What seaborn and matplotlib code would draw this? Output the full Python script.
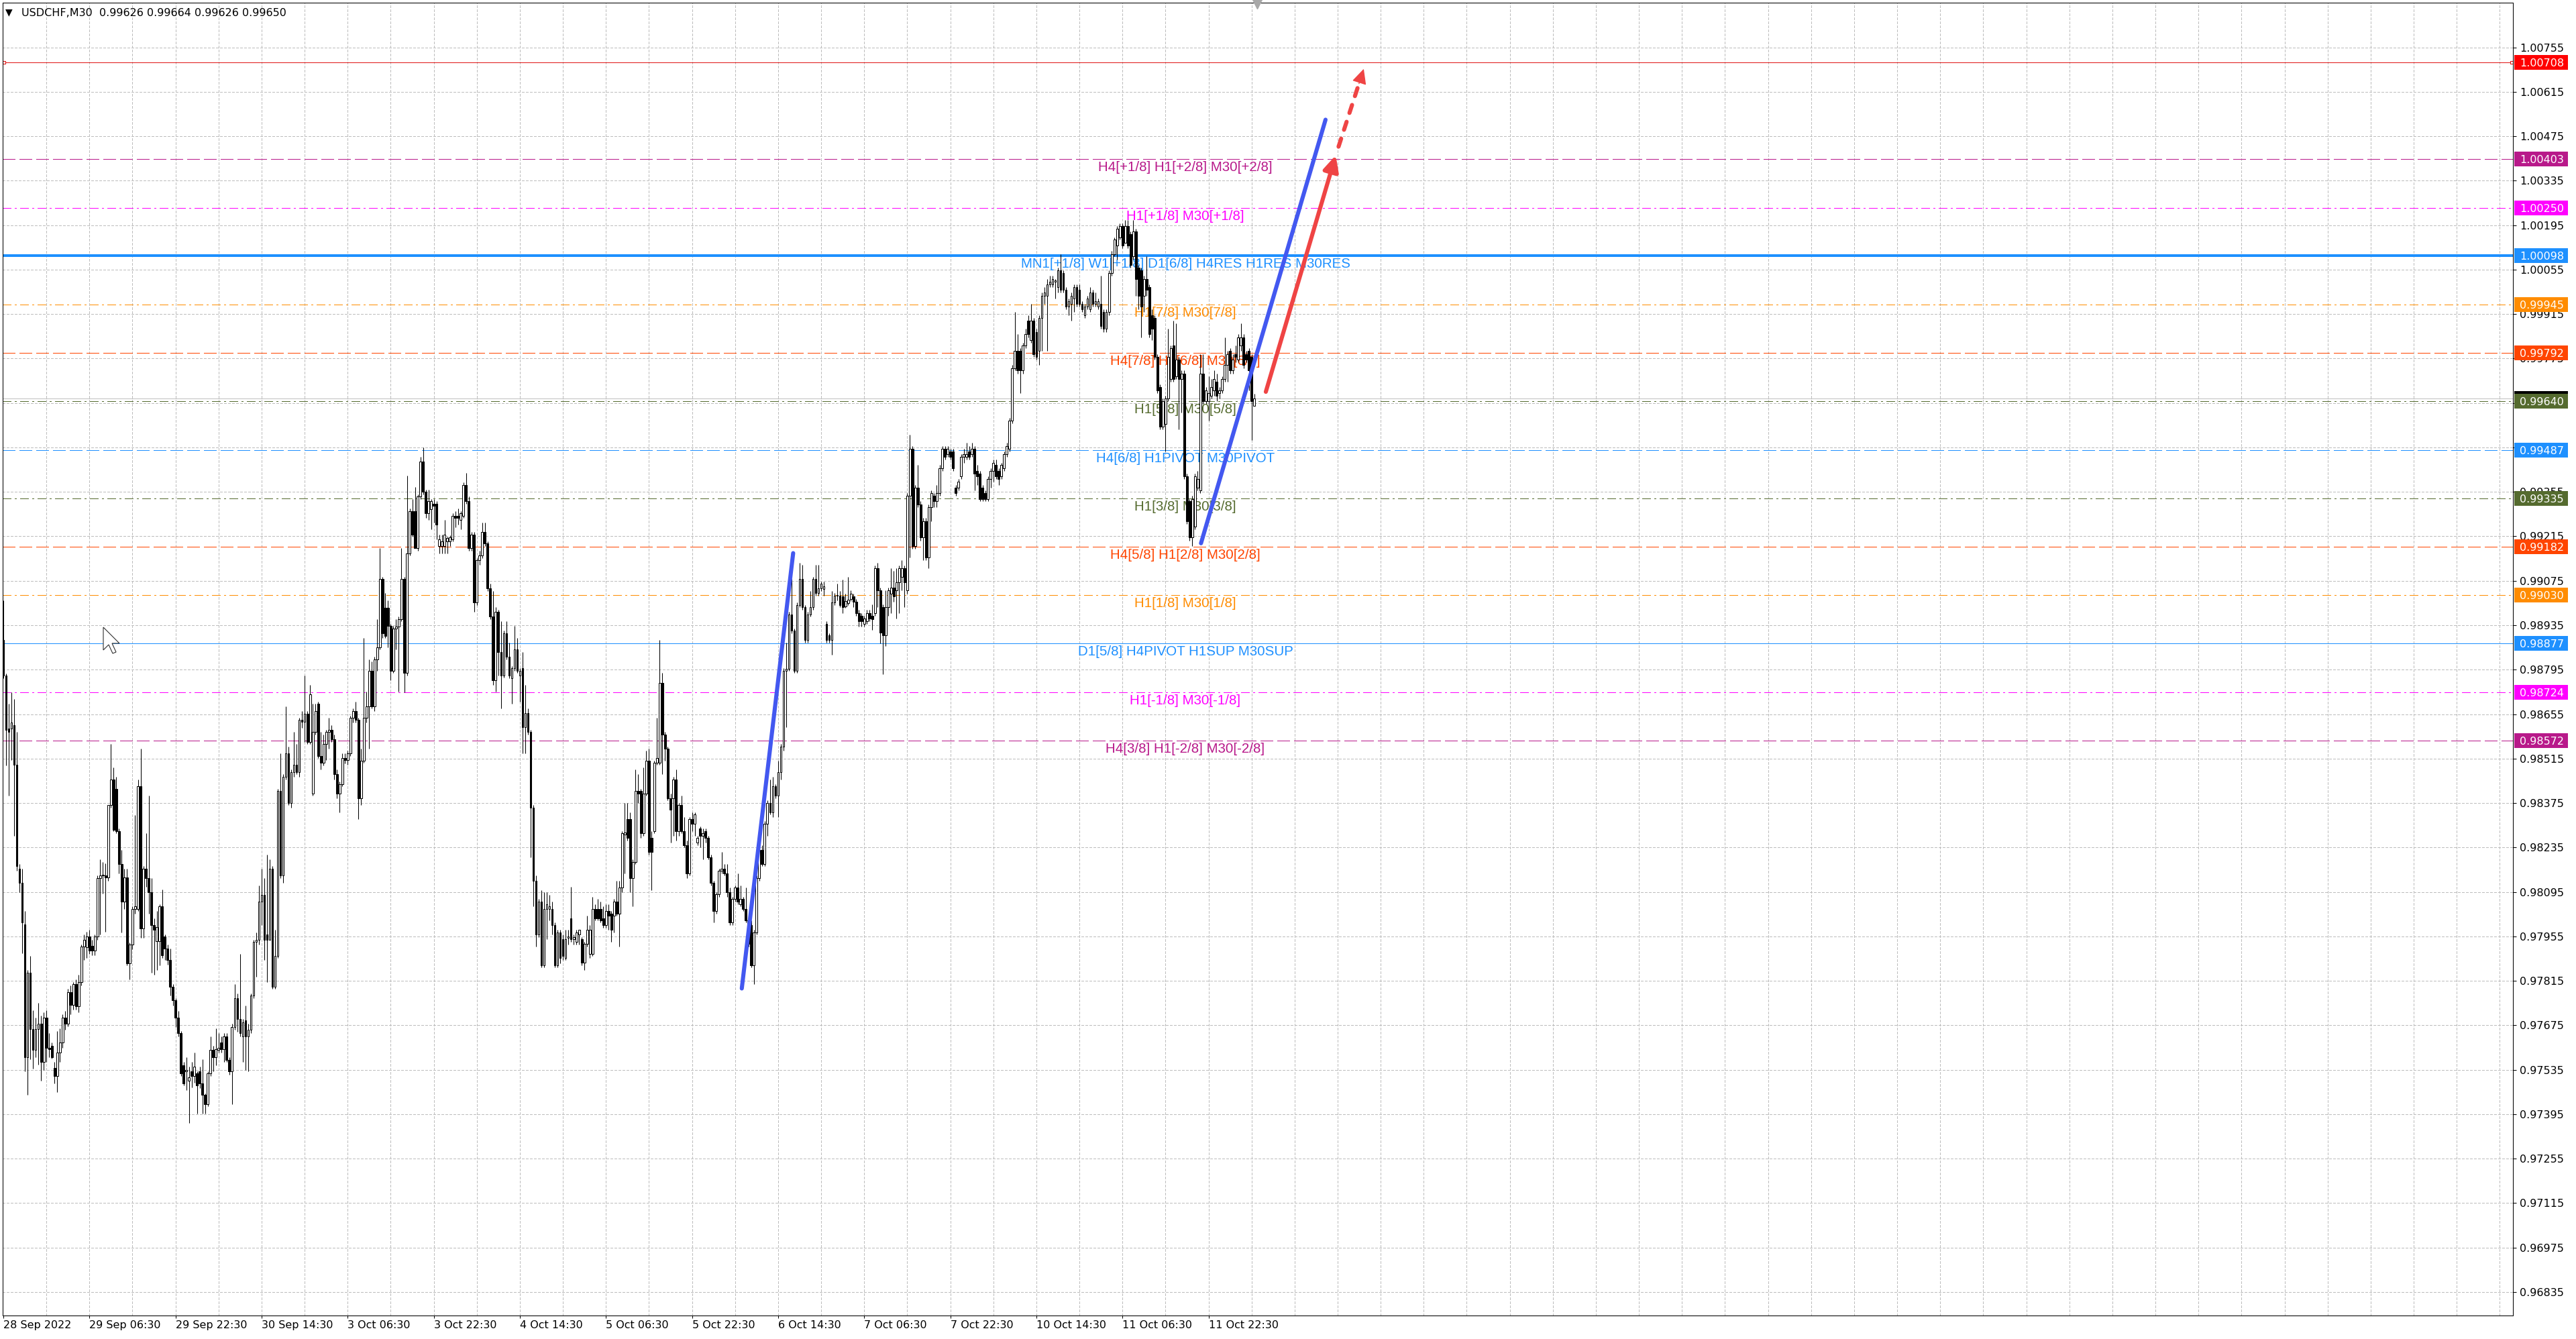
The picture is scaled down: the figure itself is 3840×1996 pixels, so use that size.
import numpy as np
import pandas as pd
import matplotlib
matplotlib.use("Agg")
import matplotlib.pyplot as plt
import seaborn as sns
from matplotlib.patches import Rectangle, Polygon
from matplotlib.transforms import blended_transform_factory

# USDCHF M30 candles, prices in points (1 point = 0.00001), bar 0 = 28 Sep 14:30
open_pts = [
    98888, 98776, 98610, 98610, 98620, 98495, 98168, 98124, 97993, 97575,
    97841, 97664, 97597, 97664, 97680, 97560, 97700, 97605, 97610, 97540,
    97515, 97590, 97620, 97700, 97680, 97780, 97740, 97805, 97735, 97810,
    97924, 97920, 97955, 97925, 97910, 97955, 98139, 98146, 98146, 98140,
    98368, 98450, 98420, 98287, 98183, 98064, 98140, 97871, 97930, 98042,
    98042, 98428, 97980, 98168, 98138, 98094, 97990, 97940, 97940, 98050,
    97955, 97916, 97880, 97797, 97753, 97700, 97650, 97550, 97530, 97500,
    97530, 97515, 97523, 97530, 97493, 97456, 97426, 97523, 97597, 97575,
    97597, 97620, 97600, 97640, 97565, 97530, 97670, 97760, 97695, 97640,
    97690, 97640, 97660, 97768, 97938, 97945, 98064, 98086, 97960, 97945,
    98168, 97797, 97894, 98413, 98146, 98457, 98531, 98376, 98472, 98495,
    98472, 98636, 98630, 98657, 98568, 98405, 98598, 98687, 98524, 98502,
    98561, 98598, 98605, 98575, 98465, 98405, 98435, 98517, 98510, 98531,
    98643, 98665, 98636, 98390, 98509, 98643, 98680, 98791, 98680, 98828,
    98865, 99080, 98990, 98990, 98932, 98791, 98925, 98930, 98954, 99080,
    98784, 99162, 99295, 99295, 99177, 99340, 99451, 99355, 99288, 99300,
    99318, 99318, 99184, 99185, 99185, 99200, 99200, 99206, 99280, 99280,
    99266, 99280, 99377, 99325, 99177, 99221, 99006, 99140, 99155, 99229,
    99192, 99051, 98962, 98762, 98977, 98850, 98776, 98910, 98836, 98769,
    98799, 98858, 98776, 98799, 98613, 98658, 98598, 98361, 98131, 97961,
    98064, 97864, 98042, 98042, 98042, 97990, 97864, 97968, 97946, 97886,
    97950, 98012, 97946, 97938, 97960, 97946, 97872, 97931, 97900, 97900,
    98042, 98042, 98042, 98012, 97990, 98035, 98027, 98020, 98064, 98027,
    98109, 98275, 98324, 98324, 98138, 98190, 98413, 98413, 98280, 98405,
    98509, 98265, 98287, 98502, 98502, 98754, 98591, 98546, 98390, 98390,
    98450, 98287, 98368, 98287, 98243, 98153, 98324, 98310, 98250, 98294,
    98272, 98287, 98265, 98205, 98124, 98035, 98087, 98161, 98168, 98153,
    98094, 97998, 98072, 98109, 98057, 98072, 98042, 98005, 97990, 97864,
    97968, 98138, 98228, 98183, 98310, 98376, 98346, 98428, 98398, 98472,
    98553, 98791, 98798, 98969, 98917, 98791, 98999, 99080, 98992, 98888,
    98969, 98992, 99080, 99036, 99051, 99050, 98940, 98903, 98888, 99006,
    99028, 99028, 99026, 98995, 99005, 99018, 99026, 99009, 98974, 98965,
    98939, 98948, 98974, 98965, 98974, 99114, 99044, 98991, 98904, 98991,
    99035, 99053, 99044, 99070, 99088, 99114, 99044, 99342, 99491, 99184,
    99368, 99316, 99211, 99263, 99149, 99307, 99342, 99325, 99351, 99430,
    99491, 99474, 99482, 99482, 99368, 99368, 99403, 99465, 99465, 99482,
    99474, 99491, 99421, 99412, 99368, 99351, 99333, 99395, 99421, 99439,
    99421, 99403, 99430, 99474, 99491, 99579, 99745, 99798, 99798, 99737,
    99816, 99894, 99833, 99894, 99859, 99798, 99903, 99973, 99973, 100008,
    100008, 100017, 100000, 100052, 100044, 99991, 99938, 99947, 99964, 99999,
    99991, 99947, 99912, 99938, 99929, 99982, 99947, 99938, 99947, 99921,
    99868, 99921, 100044, 100104, 100130, 100157, 100192, 100140, 100192, 100166,
    100096, 100175, 100061, 100052, 99973, 100026, 99999, 99912, 99903, 99780,
    99684, 99561, 99569, 99649, 99710, 99816, 99719, 99772, 99710, 99728,
    99403, 99325, 99211, 99245, 99368, 99360, 99728, 99640, 99640, 99658,
    99675, 99701, 99666, 99675, 99710, 99754, 99798, 99737, 99789, 99772,
    99816, 99842, 99789, 99798, 99780, 99626,
]
high_pts = [
    99014, 98783, 98687, 98724, 98702, 98598, 98183, 98168, 98035, 97850,
    97893, 97723, 97700, 97745, 97705, 97715, 97722, 97650, 97620, 97560,
    97657, 97665, 97710, 97720, 97790, 97800, 97810, 97820, 97835, 97930,
    97960, 97970, 97975, 97945, 97960, 98146, 98198, 98190, 98185, 98368,
    98560, 98487, 98457, 98294, 98228, 98168, 98168, 97935, 98050, 98338,
    98450, 98546, 98176, 98280, 98398, 98138, 98012, 98035, 98057, 98102,
    97960, 97930, 97916, 97805, 97760, 97720, 97657, 97560, 97575, 97545,
    97560, 97590, 97530, 97545, 97567, 97460, 97530, 97640, 97610, 97665,
    97650, 97640, 97650, 97650, 97575, 97680, 97805, 97775, 97900, 97695,
    97736, 97680, 97775, 97945, 97968, 98116, 98168, 98138, 98213, 98198,
    98176, 97975, 98420, 98532, 98465, 98680, 98553, 98480, 98598, 98561,
    98643, 98665, 98776, 98665, 98747, 98687, 98687, 98695, 98598, 98590,
    98605, 98643, 98620, 98590, 98480, 98442, 98531, 98531, 98539, 98650,
    98672, 98695, 98643, 98546, 98895, 98725, 98828, 98820, 98836, 98954,
    99177, 99088, 99036, 99014, 98940, 98932, 98954, 98962, 99177, 99088,
    99406, 99303, 99332, 99370, 99347, 99466, 99495, 99362, 99362, 99332,
    99332, 99325, 99221, 99221, 99266, 99214, 99218, 99288, 99295, 99303,
    99295, 99384, 99414, 99340, 99229, 99229, 99147, 99170, 99258, 99258,
    99199, 99065, 99043, 98992, 98984, 98947, 98917, 98947, 98880, 98806,
    98932, 98895, 98799, 98850, 98747, 98672, 98606, 98368, 98146, 98072,
    98101, 98094, 98094, 98086, 98064, 97998, 97975, 97975, 97960, 97975,
    97975, 98112, 97960, 97975, 97975, 97953, 97938, 98020, 97990, 98079,
    98057, 98072, 98064, 98050, 98057, 98057, 98035, 98072, 98131, 98131,
    98287, 98376, 98376, 98346, 98198, 98480, 98465, 98420, 98487, 98539,
    98546, 98287, 98509, 98643, 98888, 98784, 98598, 98553, 98405, 98457,
    98480, 98376, 98398, 98331, 98257, 98331, 98346, 98346, 98272, 98302,
    98294, 98294, 98272, 98212, 98131, 98094, 98168, 98220, 98183, 98183,
    98109, 98079, 98116, 98153, 98116, 98079, 98109, 98020, 98005, 97975,
    98146, 98235, 98243, 98317, 98383, 98450, 98457, 98435, 98509, 98561,
    98799, 98880, 98977, 99080, 98925, 99006, 99132, 99125, 98999, 98977,
    99043, 99088, 99125, 99125, 99073, 99073, 98947, 98910, 99043, 99036,
    99065, 99043, 99079, 99035, 99088, 99044, 99035, 99018, 98983, 98974,
    98965, 98983, 98983, 99000, 99123, 99132, 99053, 99000, 99044, 99053,
    99114, 99106, 99114, 99123, 99140, 99123, 99351, 99535, 99500, 99377,
    99439, 99325, 99272, 99272, 99316, 99360, 99351, 99377, 99439, 99500,
    99500, 99500, 99491, 99491, 99377, 99395, 99474, 99491, 99509, 99500,
    99509, 99500, 99439, 99421, 99377, 99360, 99403, 99430, 99456, 99456,
    99430, 99447, 99482, 99509, 99588, 99754, 99921, 99851, 99807, 99824,
    99868, 99912, 99947, 99903, 99868, 99912, 99982, 99999, 100026, 100035,
    100035, 100026, 100061, 100104, 100052, 99999, 99964, 99982, 100008, 100008,
    100008, 99956, 99947, 99973, 99999, 99991, 99982, 99964, 100035, 99929,
    99929, 100052, 100113, 100157, 100192, 100201, 100201, 100210, 100210, 100175,
    100210, 100184, 100070, 100061, 100035, 100096, 100008, 99929, 99912, 99789,
    99693, 99649, 99658, 99868, 99816, 99894, 99886, 99780, 99737, 99737,
    99412, 99333, 99342, 99412, 99421, 99789, 99789, 99684, 99719, 99710,
    99737, 99728, 99684, 99719, 99842, 99798, 99807, 99789, 99816, 99851,
    99886, 99851, 99798, 99807, 99789, 99664,
]
low_pts = [
    98769, 98494, 98398, 98510, 98272, 98161, 98094, 97901, 97530, 97456,
    97568, 97538, 97575, 97552, 97500, 97535, 97560, 97575, 97570, 97493,
    97464, 97560, 97605, 97660, 97672, 97710, 97725, 97725, 97715, 97800,
    97880, 97888, 97900, 97895, 97895, 97945, 97960, 98090, 97970, 98130,
    98360, 98287, 98280, 98153, 97968, 98042, 97864, 97820, 97915, 98027,
    98035, 97950, 97950, 98110, 98027, 97840, 97835, 97850, 97864, 97886,
    97880, 97865, 97768, 97738, 97670, 97640, 97515, 97485, 97470, 97367,
    97480, 97494, 97397, 97478, 97397, 97397, 97420, 97515, 97530, 97550,
    97590, 97590, 97560, 97560, 97520, 97426, 97660, 97655, 97640, 97560,
    97535, 97530, 97650, 97760, 97827, 97930, 97990, 97880, 97812, 97945,
    97790, 97790, 97886, 98138, 98124, 98450, 98368, 98360, 98457, 98465,
    98457, 98612, 98568, 98560, 98560, 98398, 98590, 98516, 98480, 98494,
    98510, 98546, 98568, 98450, 98390, 98346, 98427, 98500, 98495, 98524,
    98628, 98628, 98324, 98368, 98502, 98628, 98546, 98673, 98665, 98791,
    98858, 98895, 98895, 98865, 98761, 98784, 98858, 98725, 98947, 98724,
    98776, 99155, 99214, 99177, 99170, 99333, 99347, 99273, 99266, 99236,
    99258, 99206, 99162, 99162, 99162, 99162, 99184, 99199, 99243, 99251,
    99236, 99273, 99318, 99170, 99170, 98977, 98999, 99125, 99147, 99184,
    99043, 98954, 98747, 98725, 98776, 98673, 98770, 98828, 98769, 98687,
    98791, 98784, 98695, 98532, 98532, 98591, 98205, 98049, 97924, 97953,
    97857, 97857, 97946, 98005, 97960, 97857, 97857, 97871, 97880, 97880,
    97930, 97938, 97930, 97930, 97930, 97864, 97849, 97924, 97886, 97894,
    98005, 98005, 97998, 97983, 97983, 97975, 97938, 97968, 98020, 97924,
    98094, 98153, 98257, 98094, 98049, 98183, 98376, 98265, 98272, 98398,
    98212, 98101, 98280, 98495, 98495, 98465, 98509, 98383, 98250, 98272,
    98257, 98272, 98280, 98235, 98138, 98146, 98287, 98272, 98243, 98235,
    98198, 98250, 98198, 98116, 97998, 98027, 98079, 98153, 98146, 98079,
    97990, 97990, 98064, 98057, 98050, 98035, 97998, 97924, 97857, 97805,
    97960, 98131, 98176, 98176, 98272, 98339, 98331, 98390, 98331, 98450,
    98539, 98613, 98791, 98910, 98784, 98784, 98992, 98984, 98880, 98880,
    98962, 98984, 99028, 99028, 99043, 99028, 98880, 98880, 98843, 98999,
    99014, 98992, 98974, 98990, 98999, 99010, 98991, 98965, 98930, 98930,
    98930, 98939, 98948, 98921, 98965, 98991, 98877, 98781, 98869, 98965,
    98974, 99009, 98956, 98974, 99044, 98991, 99035, 99149, 99175, 99175,
    99307, 99202, 99140, 99140, 99114, 99263, 99307, 99307, 99342, 99421,
    99456, 99465, 99456, 99421, 99342, 99360, 99395, 99447, 99456, 99456,
    99465, 99360, 99377, 99325, 99325, 99325, 99325, 99368, 99386, 99395,
    99377, 99395, 99421, 99465, 99482, 99570, 99737, 99728, 99666, 99728,
    99807, 99842, 99824, 99780, 99772, 99754, 99798, 99947, 99798, 100000,
    100000, 99964, 99982, 99982, 99982, 99929, 99912, 99894, 99921, 99938,
    99938, 99921, 99903, 99929, 99921, 99938, 99938, 99929, 99868, 99859,
    99859, 99912, 100035, 100096, 100087, 100149, 100122, 100140, 100122, 100061,
    100087, 99973, 99929, 99842, 99921, 99973, 99842, 99833, 99772, 99666,
    99552, 99552, 99482, 99640, 99701, 99701, 99710, 99552, 99605, 99395,
    99254, 99202, 99184, 99237, 99360, 99351, 99632, 99632, 99579, 99649,
    99658, 99640, 99649, 99666, 99701, 99701, 99728, 99728, 99763, 99763,
    99798, 99745, 99763, 99675, 99517, 99626,
]
close_pts = [
    98776, 98606, 98600, 98628, 98495, 98176, 98124, 97998, 97575, 97841,
    97664, 97597, 97664, 97680, 97560, 97700, 97605, 97600, 97575, 97515,
    97590, 97620, 97700, 97680, 97780, 97740, 97805, 97735, 97810, 97924,
    97945, 97955, 97910, 97910, 97955, 98139, 98146, 98150, 98140, 98368,
    98450, 98290, 98287, 98183, 98064, 98140, 97871, 97930, 98042, 98050,
    98428, 97980, 98168, 98138, 98094, 97990, 97975, 97985, 98050, 97895,
    97916, 97880, 97797, 97753, 97700, 97650, 97523, 97493, 97535, 97510,
    97515, 97545, 97486, 97493, 97456, 97426, 97523, 97597, 97575, 97600,
    97605, 97600, 97640, 97565, 97530, 97670, 97760, 97695, 97650, 97685,
    97640, 97660, 97768, 97938, 97945, 98064, 98086, 97945, 97945, 98168,
    97797, 97894, 98413, 98146, 98457, 98531, 98376, 98472, 98495, 98472,
    98636, 98630, 98657, 98568, 98717, 98598, 98665, 98524, 98502, 98561,
    98598, 98605, 98575, 98465, 98405, 98435, 98517, 98510, 98531, 98643,
    98665, 98636, 98390, 98509, 98643, 98680, 98791, 98680, 98828, 98865,
    99080, 98910, 98902, 98932, 98791, 98925, 98930, 98954, 99080, 98784,
    99162, 99295, 99221, 99177, 99340, 99451, 99355, 99288, 99325, 99325,
    99310, 99251, 99206, 99200, 99221, 99210, 99212, 99280, 99273, 99273,
    99288, 99377, 99325, 99177, 99221, 99006, 99140, 99155, 99229, 99192,
    99051, 98962, 98762, 98977, 98850, 98776, 98910, 98836, 98776, 98799,
    98858, 98791, 98791, 98613, 98658, 98598, 98361, 98131, 97961, 98064,
    97864, 98042, 98057, 98050, 97990, 97864, 97968, 97886, 97894, 97946,
    97955, 97946, 97953, 97968, 97975, 97872, 97931, 97975, 97975, 98042,
    98012, 98012, 98005, 97990, 98035, 98020, 97975, 98064, 98027, 98109,
    98280, 98283, 98265, 98138, 98190, 98413, 98405, 98280, 98405, 98509,
    98220, 98220, 98502, 98517, 98754, 98591, 98546, 98390, 98353, 98450,
    98287, 98368, 98287, 98243, 98153, 98324, 98310, 98340, 98265, 98272,
    98280, 98265, 98205, 98124, 98035, 98087, 98161, 98168, 98153, 98094,
    97998, 98072, 98109, 98064, 98072, 98042, 98005, 97931, 97864, 97968,
    98138, 98228, 98183, 98310, 98376, 98346, 98428, 98398, 98472, 98553,
    98791, 98798, 98969, 98917, 98791, 98999, 99080, 98992, 98888, 98969,
    98992, 99080, 99036, 99051, 99065, 99058, 98888, 98888, 99006, 99028,
    99030, 98999, 98991, 99010, 99015, 99035, 99009, 98974, 98948, 98948,
    98956, 98974, 98956, 98955, 99114, 99044, 98912, 98904, 98991, 99044,
    99053, 99026, 99070, 99114, 99114, 99070, 99342, 99491, 99184, 99368,
    99316, 99211, 99263, 99149, 99307, 99351, 99325, 99351, 99430, 99491,
    99465, 99491, 99465, 99430, 99351, 99386, 99465, 99474, 99474, 99465,
    99491, 99412, 99403, 99333, 99333, 99333, 99395, 99421, 99447, 99403,
    99395, 99439, 99474, 99500, 99579, 99745, 99798, 99737, 99737, 99816,
    99851, 99851, 99894, 99789, 99780, 99903, 99973, 99982, 100008, 100017,
    100026, 100020, 100052, 99991, 99991, 99938, 99956, 99973, 99999, 99947,
    99947, 99929, 99938, 99964, 99982, 99947, 99956, 99956, 99877, 99868,
    99921, 100044, 100104, 100149, 100184, 100192, 100130, 100192, 100130, 100070,
    100175, 100026, 99973, 99938, 100026, 99991, 99851, 99868, 99780, 99675,
    99561, 99640, 99649, 99780, 99807, 99710, 99772, 99710, 99728, 99403,
    99263, 99211, 99333, 99403, 99395, 99728, 99640, 99675, 99666, 99684,
    99710, 99658, 99675, 99710, 99754, 99789, 99737, 99772, 99780, 99842,
    99842, 99754, 99772, 99737, 99640, 99650,
]

time_labels = ["28 Sep 2022", "29 Sep 06:30", "29 Sep 22:30", "30 Sep 14:30",
               "3 Oct 06:30", "3 Oct 22:30", "4 Oct 14:30", "5 Oct 06:30",
               "5 Oct 22:30", "6 Oct 14:30", "7 Oct 06:30", "7 Oct 22:30",
               "10 Oct 14:30", "11 Oct 06:30", "11 Oct 22:30"]
time_label_bars = [0, 32, 64, 96, 128, 160, 192, 224, 256, 288, 320, 352, 384, 416, 448]

price_ticks = ["0.96835", "0.96975", "0.97115", "0.97255", "0.97395", "0.97535",
               "0.97675", "0.97815", "0.97955", "0.98095", "0.98235", "0.98375",
               "0.98515", "0.98655", "0.98795", "0.98935", "0.99075", "0.99215",
               "0.99355", "0.99495", "0.99635", "0.99775", "0.99915", "1.00055",
               "1.00195", "1.00335", "1.00475", "1.00615", "1.00755"]

# Murrey math levels
level_prices = [1.00708, 1.00403, 1.00250, 1.00098, 0.99945, 0.99792, 0.99640,
                0.99487, 0.99335, 0.99182, 0.99030, 0.98877, 0.98724, 0.98572]
level_colors = ["#E01515", "#B8198A", "#FF00FF", "#1E90FF", "#FF8C00", "#FF4500",
                "#556B2F", "#1E90FF", "#556B2F", "#FF4500", "#FF8C00", "#1E90FF",
                "#FF00FF", "#B8198A"]
level_styles = ["solid", "dash", "dashdot", "solid", "dashdot", "dash", "dashdot",
                "dash", "dashdot", "dash", "dashdot", "solid", "dashdot", "dash"]
level_texts = ["",
               "H4[+1/8] H1[+2/8] M30[+2/8]",
               "H1[+1/8] M30[+1/8]",
               "MN1[+1/8] W1[+1/8] D1[6/8] H4RES H1RES M30RES",
               "H1[7/8] M30[7/8]",
               "H4[7/8] H1[6/8] M30[6/8]",
               "H1[5/8] M30[5/8]",
               "H4[6/8] H1PIVOT M30PIVOT",
               "H1[3/8] M30[3/8]",
               "H4[5/8] H1[2/8] M30[2/8]",
               "H1[1/8] M30[1/8]",
               "D1[5/8] H4PIVOT H1SUP M30SUP",
               "H1[-1/8] M30[-1/8]",
               "H4[3/8] H1[-2/8] M30[-2/8]"]
bid_price = 0.99650
title_text = "USDCHF,M30  0.99626 0.99664 0.99626 0.99650"

# hand-drawn trend lines: (bar, price) pairs
blue_lines = [[(274.5, 0.97791), (293.6, 0.99162)],
              [(445.2, 0.99193), (491.5, 1.00527)]]
red_arrow = [(469.3, 0.99670), (495.3, 1.00415), (505.7, 1.00687)]

sns.set_theme(style="white")
plt.rcParams["font.family"] = ["DejaVu Sans"]
plt.rcParams["lines.scale_dashes"] = False

W, H = 3840, 1996
fig = plt.figure(figsize=(W / 100, H / 100), dpi=100)
fig.patch.set_facecolor("white")
left, right, top, bottom = 4, 3746, 4, 1961
ax = fig.add_axes([left / W, 1 - bottom / H, (right - left) / W, (bottom - top) / H])
ax.set_facecolor("white")

df = pd.DataFrame({"open": open_pts, "high": high_pts, "low": low_pts, "close": close_pts}) / 1e5
df["bar"] = np.arange(len(df))
ax.set_xlim(-0.25, 932.9)
ax.set_ylim(0.96761, 1.008955)

# grid
grid_kw = dict(color="#BDBDBD", lw=0.72, ls=(0, (2.4, 1.6)), zorder=0.5, antialiased=False)
for gx in range(16, 933, 16):
    ax.axvline(gx, **grid_kw)
for gy in price_ticks:
    ax.axhline(float(gy), **grid_kw)

# levels
dash_map = {"solid": "-", "dash": (0, (13, 4.5)), "dashdot": (0, (9, 4, 2, 4))}
for p, c, s, t in zip(level_prices, level_colors, level_styles, level_texts):
    lw = 1.45 if p == 1.00098 else 0.72
    ax.axhline(p, color=c, ls=dash_map[s], lw=lw, zorder=1, antialiased=False)
    if t:
        ax.annotate(t, xy=(439.4, p), xytext=(0, -9), textcoords="offset points",
                    ha="center", va="center", color=c, fontsize=14.8,
                    family=["Liberation Sans", "DejaVu Sans"], zorder=2)
ax.axhline(bid_price, color="#C0C0C0", lw=0.72, zorder=1, antialiased=False)

ends = blended_transform_factory(ax.transAxes, ax.transData)
ax.plot([0.0005, 0.9995], [level_prices[0]] * 2, transform=ends, ls="none", marker="s",
        ms=3.2, mfc="white", mec=level_colors[0], mew=0.8, clip_on=False, zorder=2)

# candles
lo = df[["low", "open", "close"]].min(axis=1)
hi = df[["high", "open", "close"]].max(axis=1)
ax.vlines(df["bar"], lo, hi, color="black", lw=0.75, zorder=3)
up = df["close"] >= df["open"]
for mask, face in [(up, "white"), (~up, "black")]:
    d = df[mask]
    ax.bar(d["bar"], (d["close"] - d["open"]).abs(), bottom=d[["open", "close"]].min(axis=1),
           width=0.68, facecolor=face, edgecolor="black", linewidth=0.75, zorder=4)

# trend lines
for (x0, y0), (x1, y1) in blue_lines:
    ax.plot([x0, x1], [y0, y1], color="#4358F0", lw=4.4, solid_capstyle="round", zorder=6)
(rx0, ry0), (rx1, ry1), (rx2, ry2) = red_arrow
red = "#EF4444"
head = "-|>,head_length=0.35,head_width=0.17"
ax.annotate("", xy=(rx1, ry1), xytext=(rx0, ry0), zorder=6,
            arrowprops=dict(arrowstyle=head, color=red, lw=4.4, shrinkA=0, shrinkB=0,
                            mutation_scale=40, capstyle="round"))
f = 0.17
hx, hy = rx2 - f * (rx2 - rx1), ry2 - f * (ry2 - ry1)
sx, sy = rx1 + 0.10 * (rx2 - rx1), ry1 + 0.10 * (ry2 - ry1)
ax.plot([sx, hx], [sy, hy], color=red, lw=4.4, ls=(0, (9, 10)), dash_capstyle="round", zorder=6)
ax.annotate("", xy=(rx2, ry2), xytext=(hx, hy), zorder=6,
            arrowprops=dict(arrowstyle=head, color=red, lw=1.0, shrinkA=0, shrinkB=0,
                            mutation_scale=40))

# axes, ticks
for sp in ax.spines.values():
    sp.set_color("black")
    sp.set_linewidth(0.75)
ax.set_xticks(time_label_bars)
ax.set_xticklabels(time_labels, ha="left")
ax.set_yticks([float(v) for v in price_ticks])
ax.set_yticklabels(price_ticks)
ax.yaxis.tick_right()
ax.tick_params(axis="x", bottom=True, direction="out", length=3, width=0.75, pad=2,
               labelsize=11.5, colors="black")
ax.tick_params(axis="y", right=True, left=False, direction="out", length=3.6, width=0.75,
               pad=3.6, labelsize=11.5, colors="black")
ax.grid(False)

# price boxes on the right scale
bw, bh = 80 / (right - left), 22 / 47320
bx, tx = (3748 - left) / (right - left), (3756 - left) / (right - left)
boxes = [(bid_price, "black")] + list(zip(level_prices, level_colors))
for i, (p, c) in enumerate(boxes):
    c = "#FF0000" if p == level_prices[0] else c
    ax.add_patch(Rectangle((bx, p - bh / 2), bw, bh, transform=ends, facecolor=c,
                           edgecolor="none", clip_on=False, zorder=10 + i))
    ax.text(tx, p, f"{p:.5f}", transform=ends, color="white", fontsize=11.5, ha="left",
            va="center_baseline", clip_on=False, zorder=10.5 + i)

# chart shift marker at top
top_tr = blended_transform_factory(ax.transData, ax.transAxes)
ax.plot([466], [0.999], transform=top_tr, marker="v", ms=10, color="#A8A8A8",
        ls="none", clip_on=False, zorder=8)

# mouse pointer left on the chart
cur = [(0, 0), (0, 34), (8, 26), (14, 39), (19, 37), (13, 24), (24, 24)]
cur_xy = [((154 + px) / W, 1 - (935 + py) / H) for px, py in cur]
fig.patches.append(Polygon(cur_xy, closed=True, transform=fig.transFigure, facecolor="white",
                           edgecolor="#303030", lw=0.8, zorder=20))

fig.text(8 / W, 1 - 18.5 / H, "▼", fontsize=10, va="center", ha="left", color="black")
fig.text(32 / W, 1 - 19.5 / H, title_text, fontsize=11.5, va="center", ha="left", color="black")

fig.savefig("out.png", dpi=100, facecolor="white")
